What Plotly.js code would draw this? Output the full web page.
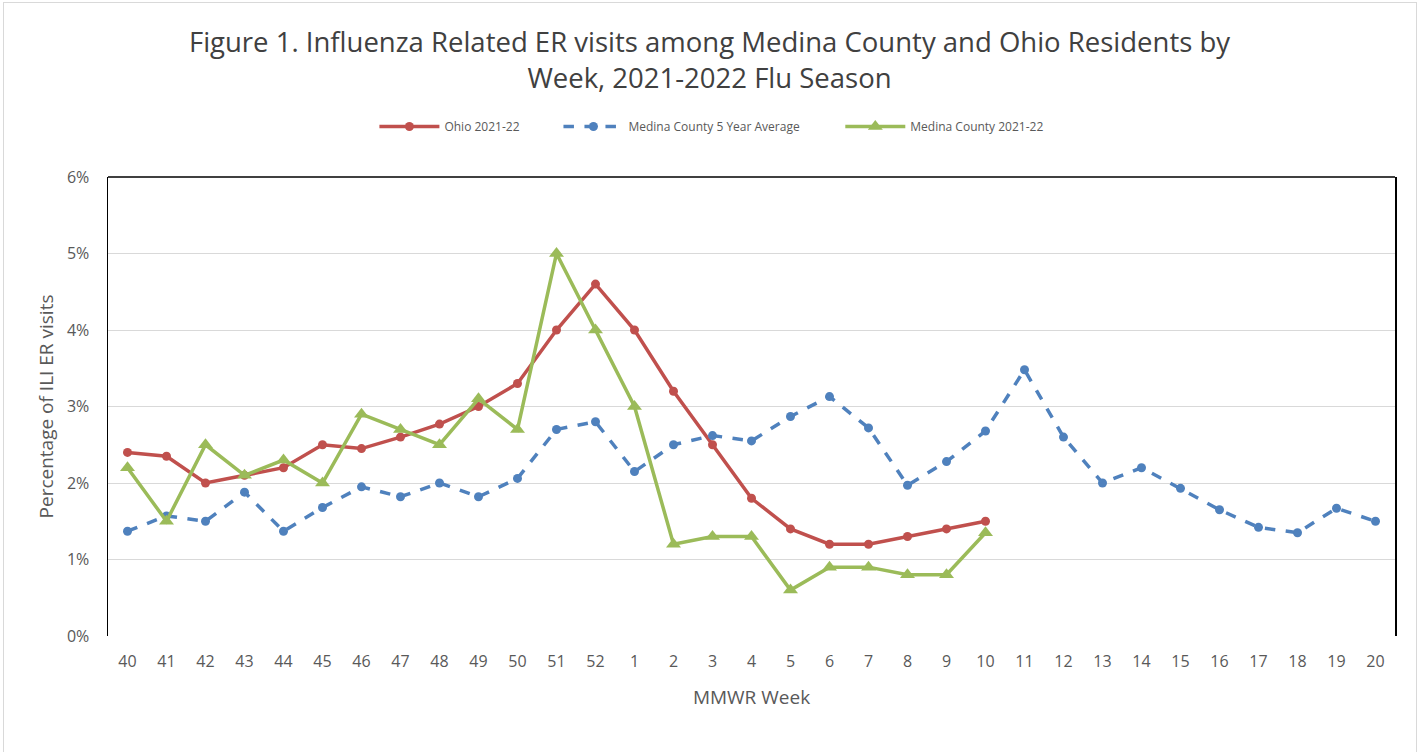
<!DOCTYPE html>
<html>
<head>
<meta charset="utf-8">
<script src="https://cdn.plot.ly/plotly-3.0.1.min.js"></script>
<style>
html,body{margin:0;padding:0;background:#fff;}
#wrap{position:relative;width:1419px;height:752px;}
#chart{width:1419px;height:752px;}
#frame{position:absolute;left:3px;top:2px;width:1412px;height:752px;border-left:1px solid #D9D9D9;border-right:1px solid #D9D9D9;border-top:1px solid #D9D9D9;pointer-events:none;}
</style>
</head>
<body>
<div id="wrap"><div id="chart"></div><div id="frame"></div></div>
<script>
const weeks = ['40','41','42','43','44','45','46','47','48','49','50','51','52','1','2','3','4','5','6','7','8','9','10','11','12','13','14','15','16','17','18','19','20'];
const ohio = [2.4,2.35,2.0,2.1,2.2,2.5,2.45,2.6,2.77,3.0,3.3,4.0,4.6,4.0,3.2,2.5,1.8,1.4,1.2,1.2,1.3,1.4,1.5];
const medina5yr = [1.37,1.57,1.5,1.88,1.37,1.68,1.95,1.82,2.0,1.82,2.06,2.7,2.8,2.15,2.5,2.62,2.55,2.87,3.13,2.72,1.97,2.28,2.68,3.48,2.6,2.0,2.2,1.93,1.65,1.42,1.35,1.67,1.5];
const medina2122 = [2.2,1.5,2.5,2.1,2.3,2.0,2.9,2.7,2.5,3.1,2.7,5.0,4.0,3.0,1.2,1.3,1.3,0.6,0.9,0.9,0.8,0.8,1.35];
const yTicks = [0,1,2,3,4,5,6];

const traces = [
  {name:'Ohio 2021-22', x:weeks.slice(0,ohio.length), y:ohio, type:'scatter', mode:'lines+markers', legend:'legend',
   line:{color:'#C0504D', width:3.5}, marker:{symbol:'circle', size:9, color:'#C0504D'}},
  {name:'Medina County 5 Year Average', x:weeks.slice(0,medina5yr.length), y:medina5yr, type:'scatter', mode:'lines+markers', legend:'legend2',
   line:{color:'#4F81BD', width:3.5, dash:'dash'}, marker:{symbol:'circle', size:9, color:'#4F81BD'}},
  {name:'Medina County 2021-22', x:weeks.slice(0,medina2122.length), y:medina2122, type:'scatter', mode:'lines+markers', legend:'legend3',
   line:{color:'#9BBB59', width:3.5}, marker:{symbol:'triangle-up', size:13, color:'#9BBB59'}}
];

const legStyle = (x) => ({orientation:'h', x:x, xanchor:'left', y:1.11, yanchor:'middle',
  font:{size:12, color:'#595959'}, itemwidth:60, bgcolor:'rgba(0,0,0,0)'});

const layout = {
  width:1419, height:752,
  margin:{l:108, r:24, t:177, b:116},
  paper_bgcolor:'#fff', plot_bgcolor:'#fff',
  font:{family:'"Open Sans", "Noto Sans", sans-serif', color:'#595959'},
  title:{text:'Figure 1. Influenza Related ER visits among Medina County and Ohio Residents by<br>Week, 2021-2022 Flu Season',
    font:{size:27.5, color:'#404040', family:'"Open Sans", sans-serif'}, x:0.5, xanchor:'center',
    yref:'container', y:0.931, yanchor:'middle'},
  showlegend:true,
  legend:legStyle(0.207),
  legend2:legStyle(0.35),
  legend3:legStyle(0.569),
  xaxis:{type:'category', categoryorder:'array', categoryarray:weeks, range:[-0.5, weeks.length-0.5],
    showgrid:false, showline:false, ticks:'', tickfont:{size:16, color:'#595959'}, ticklabelstandoff:14,
    title:{text:'MMWR Week', font:{size:19, color:'#595959'}, standoff:19}},
  yaxis:{range:[0,6], tickvals:yTicks, ticktext:yTicks.map(v=>v+'%'), showgrid:true, gridcolor:'#D9D9D9', gridwidth:1,
    zeroline:false, showline:true, mirror:true, linecolor:'#000', linewidth:1.5, ticks:'',
    tickfont:{size:16, color:'#595959'}, ticklabelstandoff:14,
    title:{text:'Percentage of ILI ER visits', font:{size:19, color:'#595959'}, standoff:8}},
  shapes:[{type:'line', xref:'paper', yref:'paper', x0:0, x1:1, y0:1, y1:1, line:{color:'#000', width:1.5}}]
};

Plotly.newPlot('chart', traces, layout, {displayModeBar:false, staticPlot:true});
</script>
</body>
</html>
